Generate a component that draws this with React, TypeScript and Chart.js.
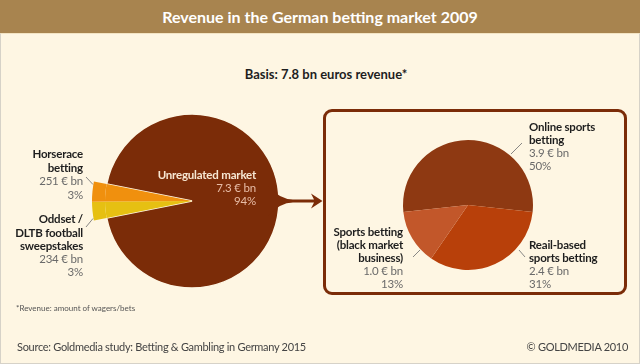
import React, { useEffect, useRef } from "react";
import { Chart, registerables } from "chart.js";

Chart.register(...registerables);

// ---- Data ----
const leftLabels = ["Unregulated market", "Oddset / DLTB football sweepstakes", "Horserace betting"];
const leftValues = [7300, 234, 251]; // € m
const leftColors = ["#7b2c08", "#e6c012", "#f0900e"];

const rightLabels = ["Online sports betting", "Reail-based sports betting", "Sports betting (black market business)"];
const rightValues = [3.9, 2.4, 1.0]; // € bn
const rightColors = ["#8e3912", "#b8400a", "#c2572a"];

const CREAM = "#fef6e3";
const BROWN = "#7b2c08";
const FONT = "Lato, 'Open Sans', sans-serif";

type LabelProps = { x: number; y: number; align: "left" | "right"; lines: [string, boolean][]; lh?: number; color?: string; valColor?: string; size?: number };

function Label({ x, y, align, lines, lh = 13.3, color = "#1e1e1e", valColor = "#6a6a6a", size = 11.5 }: LabelProps) {
  const style: React.CSSProperties = {
    position: "absolute",
    top: y - lh / 2,
    fontFamily: FONT,
    fontSize: size,
    letterSpacing: "-0.2px",
    lineHeight: lh + "px",
    textAlign: align,
    whiteSpace: "nowrap",
  };
  if (align === "left") style.left = x;
  else style.right = 640 - x;
  return (
    <div style={style}>
      {lines.map(([t, b], i) => (
        <div key={i} style={{ fontWeight: b ? 700 : 400, color: b ? color : valColor }}>{t}</div>
      ))}
    </div>
  );
}

export default function App() {
  const leftRef = useRef<HTMLCanvasElement>(null);
  const rightRef = useRef<HTMLCanvasElement>(null);

  useEffect(() => {
    document.body.style.margin = "0";
    const total = leftValues.reduce((a, b) => a + b, 0);
    const smallAngle = (360 * (total - leftValues[0])) / total;
    const leftChart = new Chart(leftRef.current!, {
      type: "pie",
      data: {
        labels: leftLabels,
        datasets: [
          {
            data: leftValues,
            backgroundColor: ["rgba(0,0,0,0)", leftColors[1], leftColors[2]],
            borderWidth: 0,
            weight: 13,
          },
          {
            data: leftValues,
            backgroundColor: leftColors,
            borderColor: CREAM,
            borderWidth: [1.5, 0, 0],
            weight: 87,
          },
        ],
      },
      options: {
        responsive: false,
        animation: false,
        events: [],
        devicePixelRatio: 1,
        rotation: 270 + smallAngle / 2,
        radius: 100,
        layout: { padding: { left: 92, right: 348, top: 101, bottom: 63 } },
        plugins: { legend: { display: false }, tooltip: { enabled: false } },
      } as any,
    });

    const rTotal = rightValues.reduce((a, b) => a + b, 0);
    const rightChart = new Chart(rightRef.current!, {
      type: "pie",
      data: {
        labels: rightLabels,
        datasets: [
          {
            data: rightValues,
            backgroundColor: rightColors,
            borderWidth: 0,
          },
        ],
      },
      options: {
        responsive: false,
        animation: false,
        events: [],
        devicePixelRatio: 1,
        rotation: -(180 * rightValues[0]) / rTotal,
        radius: 65,
        layout: { padding: { left: 403, right: 107, top: 140, bottom: 94 } },
        plugins: { legend: { display: false }, tooltip: { enabled: false } },
      } as any,
    });
    return () => {
      leftChart.destroy();
      rightChart.destroy();
    };
  }, []);

  const canvasStyle: React.CSSProperties = { position: "absolute", left: 0, top: 0, width: 640, height: 364 };
  const footStyle: React.CSSProperties = { position: "absolute", top: 339, fontSize: 11, letterSpacing: "-0.3px", lineHeight: "16px", color: "#444", whiteSpace: "nowrap" };

  return (
    <div style={{ position: "fixed", left: 0, top: 0, width: 640, height: 364, background: CREAM, overflow: "hidden", fontFamily: FONT }}>
      <div style={{ position: "absolute", left: 0, top: 33, width: 640, height: 331, boxSizing: "border-box", border: "1px solid #d6d2c8", borderTop: "1px solid #f3e4c4" }} />
      <div style={{ position: "absolute", left: 0, top: 0, width: 640, height: 33, background: "#a8844f", color: "#fff", fontWeight: 700, fontSize: 16, lineHeight: "33px", textAlign: "center" }}>
        Revenue in the German betting market 2009
      </div>
      <div style={{ position: "absolute", left: 0, width: 652, top: 65, textAlign: "center", fontWeight: 700, fontSize: 13, lineHeight: "18px", color: "#1e1e1e" }}>
        Basis: 7.8 bn euros revenue*
      </div>

      <div style={{ position: "absolute", left: 323, top: 109, width: 304, height: 186, boxSizing: "border-box", border: "3px solid " + BROWN, borderRadius: 9 }} />

      <canvas ref={leftRef} width={640} height={364} style={canvasStyle} />
      <canvas ref={rightRef} width={640} height={364} style={canvasStyle} />

      <svg width={640} height={364} style={{ position: "absolute", left: 0, top: 0 }}>
        <path d="M 268 186 Q 280 199.5 293 199.5 L 314 199.5 L 311 193.5 L 322.5 201 L 311 208.5 L 314 202.5 L 293 202.5 Q 280 202.5 268 216 Z" fill={BROWN} />
        <g stroke="#7a7a7a" strokeWidth={0.9} fill="none">
          <line x1={86} y1={177} x2={93} y2={184.5} />
          <line x1={86} y1={227} x2={93} y2={218.5} />
          <line x1={522} y1={143} x2={511} y2={154} />
          <line x1={420} y1={250} x2={413} y2={257} />
          <line x1={519} y1={250} x2={525} y2={257} />
        </g>
      </svg>

      <Label x={83} y={154} align="right" lh={13.5} lines={[["Horserace", true], ["betting", true], ["251 € bn", false], ["3%", false]]} />
      <Label x={83} y={219} align="right" lh={13.2} lines={[["Oddset /", true], ["DLTB football", true], ["sweepstakes", true], ["234 € bn", false], ["3%", false]]} />
      <Label x={256} y={174} align="right" lh={13} color="#f7e7d2" valColor="#e7bca6" lines={[["Unregulated market", true], ["7.3 € bn", false], ["94%", false]]} />
      <Label x={529} y={126} align="left" lh={13} lines={[["Online sports", true], ["betting", true], ["3.9 € bn", false], ["50%", false]]} />
      <Label x={403} y={231} align="right" lh={13} lines={[["Sports betting", true], ["(black market", true], ["business)", true], ["1.0 € bn", false], ["13%", false]]} />
      <Label x={529} y={244} align="left" lh={13} lines={[["Reail-based", true], ["sports betting", true], ["2.4 € bn", false], ["31%", false]]} />

      <div style={{ position: "absolute", left: 16, top: 303, fontSize: 8, lineHeight: "10px", color: "#555" }}>*Revenue: amount of wagers/bets</div>
      <div style={{ ...footStyle, left: 17 }}>Source: Goldmedia study: Betting &amp; Gambling in Germany 2015</div>
      <div style={{ ...footStyle, right: 12 }}>© GOLDMEDIA 2010</div>
    </div>
  );
}
